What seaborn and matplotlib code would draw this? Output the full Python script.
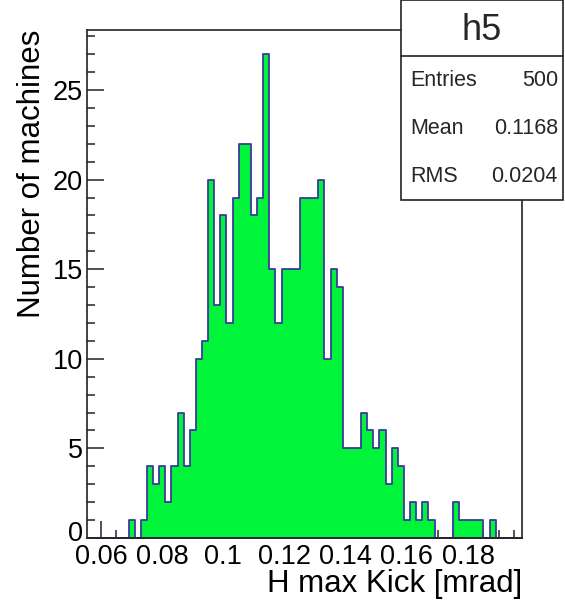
import numpy as np
import pandas as pd
import matplotlib
matplotlib.use("Agg")
import matplotlib.pyplot as plt
from matplotlib.patches import Rectangle
from matplotlib.lines import Line2D
from matplotlib.ticker import MultipleLocator, FixedLocator
from matplotlib.transforms import ScaledTranslation
import seaborn as sns

# ---- data ----
bin_start = 0.055
bin_width = 0.002
counts = [0, 0, 0, 0, 0, 0, 0, 1, 0, 1,
          4, 3, 4, 2, 4, 7, 4, 6, 10, 11,
          20, 13, 18, 12, 19, 22, 22, 18, 19, 27,
          15, 12, 15, 15, 15, 19, 19, 19, 20, 10,
          15, 14, 5, 5, 5, 7, 6, 5, 6, 3,
          5, 4, 1, 2, 1, 2, 1, 0, 0, 0,
          2, 1, 1, 1, 1, 0, 1, 0, 0, 0,
          0, 0]
x_ticks = [0.06, 0.08, 0.10, 0.12, 0.14, 0.16, 0.18]
x_tick_labels = ["0.06", "0.08", "0.1", "0.12", "0.14", "0.16", "0.18"]
y_ticks = [0, 5, 10, 15, 20, 25]
y_tick_labels = ["0", "5", "10", "15", "20", "25"]
stats_title = "h5"
stats_names = ["Entries", "Mean", "RMS"]
stats_values = ["500", "0.1168", "0.0204"]
x_label = "H max Kick [mrad]"
y_label = "Number of machines"

edges = [float(e) for e in bin_start + bin_width * np.arange(len(counts) + 1)]
centers = [(edges[i] + edges[i + 1]) / 2 for i in range(len(counts))]
df = pd.DataFrame({"kick": centers, "n": counts})

sns.set_theme(style="white")
plt.rcParams["font.family"] = ["Liberation Sans", "DejaVu Sans"]

W, H = 565, 603
fig = plt.figure(figsize=(W / 100, H / 100), dpi=100)
ax = fig.add_axes([87 / W, 1 - 538 / H, (522 - 87) / W, (538 - 30) / H])

sns.histplot(data=df, x="kick", weights="n", bins=edges, element="step",
             fill=True, color="#00f53a", alpha=1.0, edgecolor="#3a3a9c",
             linewidth=1.3, ax=ax)

ax.set_xlim(0.0554, 0.1976)
ax.set_ylim(0, 28.35)

ax.xaxis.set_major_locator(FixedLocator(x_ticks))
ax.set_xticklabels(x_tick_labels)
ax.xaxis.set_minor_locator(MultipleLocator(0.005))
ax.yaxis.set_major_locator(FixedLocator(y_ticks))
ax.set_yticklabels(y_tick_labels)
ax.yaxis.set_minor_locator(MultipleLocator(1))

ax.tick_params(axis="both", which="major", direction="in", length=12,
               width=1.1, color="#222222", labelsize=19.5, labelcolor="black")
ax.tick_params(axis="both", which="minor", direction="in", length=6,
               width=1.1, color="#222222")
ax.tick_params(axis="x", which="both", bottom=True, top=False, pad=4.5)
ax.tick_params(axis="y", which="both", left=True, right=False, pad=3)

# nudge the "0" y label up a few pixels so it just clears "0.06"
zero_lbl = ax.yaxis.get_major_ticks()[0].label1
zero_lbl.set_transform(zero_lbl.get_transform() + ScaledTranslation(0, 7 / 100, fig.dpi_scale_trans))

for s in ax.spines.values():
    s.set_color("#222222")
    s.set_linewidth(1.2)

ax.set_xlabel(x_label, fontsize=22.5, loc="right", labelpad=-1, color="black")
ax.set_ylabel(y_label, fontsize=22.5, loc="top", labelpad=4, color="black")

# ---- stats box ----
bx0, bx1 = 401 / W, 563 / W
by0, by1 = 1 - 200 / H, 1.0
fig.patches.append(Rectangle((bx0, by0), bx1 - bx0, by1 - by0, transform=fig.transFigure,
                             facecolor="white", edgecolor="#222222", linewidth=1.2,
                             zorder=10))
sep_y = 1 - 56 / H
fig.lines.append(Line2D([bx0, bx1], [sep_y, sep_y], transform=fig.transFigure,
                        color="#222222", linewidth=1.2, zorder=11))
fig.text((bx0 + bx1) / 2, 1 - 31 / H, stats_title, ha="center", va="center",
         fontsize=26, zorder=12)
row_y = [80, 128, 177]
for name, val, yy in zip(stats_names, stats_values, row_y):
    fig.text(410 / W, 1 - yy / H, name, ha="left", va="center", fontsize=15.5, zorder=12)
    fig.text(558 / W, 1 - yy / H, val, ha="right", va="center", fontsize=15.5, zorder=12)

fig.savefig("out.png", dpi=100)
